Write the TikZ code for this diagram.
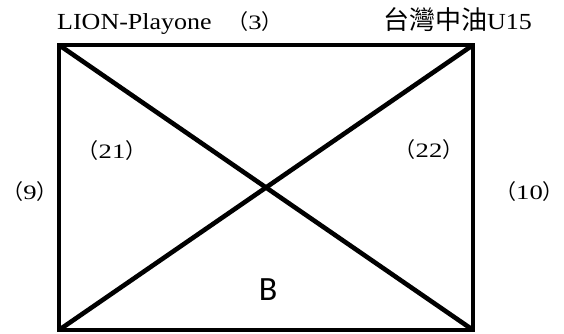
\documentclass[tikz,border=0pt]{standalone}
\usepackage{fontspec}
\setmainfont{Liberation Serif}[FakeStretch=1.13]
\newfontfamily\numfont{Liberation Serif}[FakeStretch=1.3]
\newfontfamily\cjkfont{Noto Sans CJK TC}
\newfontfamily\bfontfam{Carlito}
\newcommand\lp{{\cjkfont\fontsize{21}{24}\selectfont （}}
\newcommand\rp{{\cjkfont\fontsize{21}{24}\selectfont ）}}
\begin{document}
\begin{tikzpicture}[x=1pt,y=-1pt,
  frame/.style={line width=4.6pt,line join=miter,line cap=rect},
  diag/.style={line width=4.6pt},
  lbl/.style={inner sep=0pt,font=\fontsize{23}{26}\selectfont},
  numlbl/.style={inner sep=0pt,anchor=base,font=\numfont\fontsize{20.5}{24}\selectfont},
  biglbl/.style={inner sep=0pt,font=\bfontfam\fontsize{34}{36}\selectfont}]
\useasboundingbox (0,0) rectangle (564,333);
\coordinate (tl) at (59,45);
\coordinate (tr) at (473,45);
\coordinate (br) at (473,330);
\coordinate (bl) at (59,330);
\draw[frame] (tl) -- (tr) -- (br) -- (bl) -- cycle;
\draw[diag] (tl) -- (br);
\draw[diag] (tr) -- (bl);
\node[lbl,anchor=base west] (lion) at (57,29.5) {LION-Playone};
\node[numlbl] (n3) at (255,29.5) {\lp 3\rp};
\node[lbl,anchor=base east] (cpc) at (532,29.5) {{\cjkfont\fontsize{26}{28}\selectfont 台灣中油}U15};
\node[numlbl] (n21) at (112,158) {\lp 21\rp};
\node[numlbl] (n22) at (429,157) {\lp 22\rp};
\node[numlbl] (n9) at (30,199) {\lp 9\rp};
\node[numlbl] (n10) at (529.5,199) {\lp 10\rp};
\node[biglbl] (b) at (268,290) {B};
\end{tikzpicture}
\end{document}
